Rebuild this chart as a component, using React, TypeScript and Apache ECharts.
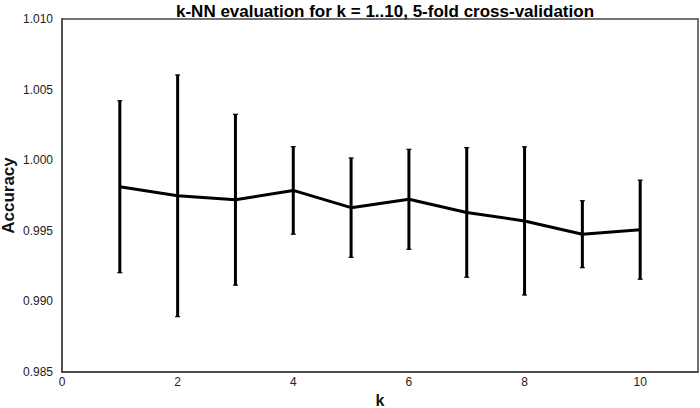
import React, { useEffect, useRef } from "react";
import * as echarts from "echarts";

const kValues = [1, 2, 3, 4, 5, 6, 7, 8, 9, 10];
const meanAccuracy = [0.99812, 0.99748, 0.9972, 0.99786, 0.99664, 0.99723, 0.9963, 0.9957, 0.99476, 0.99508];
const stdAccuracy = [0.00609, 0.00856, 0.00605, 0.0031, 0.00352, 0.00354, 0.00459, 0.00525, 0.00237, 0.00351];
const titleText = "k-NN evaluation for k = 1..10, 5-fold cross-validation";

export default function App() {
  const ref = useRef<HTMLDivElement>(null);
  useEffect(() => {
    if (!ref.current) return;
    const chart = echarts.init(ref.current, null, { renderer: "svg" });
    const font = "'Liberation Sans', Arial, Helvetica, sans-serif";
    const lineData = kValues.map((k, i) => [k, meanAccuracy[i]]);
    const errData = kValues.map((k, i) => [k, meanAccuracy[i] - stdAccuracy[i], meanAccuracy[i] + stdAccuracy[i]]);
    chart.setOption({
      animation: false,
      backgroundColor: "#ffffff",
      title: {
        text: titleText,
        left: 380,
        textAlign: "center",
        top: -2,
        textStyle: { fontFamily: font, fontSize: 17, fontWeight: "bold", color: "#000" },
      },
      grid: {
        left: 62,
        right: 2,
        top: 19,
        bottom: 36,
        containLabel: false,
        outerBoundsMode: "none",
        show: true,
        borderColor: "#444",
        borderWidth: 1.5,
        backgroundColor: "transparent",
      },
      xAxis: {
        type: "value",
        min: 0,
        max: 11,
        interval: 2,
        name: "k",
        nameLocation: "middle",
        nameGap: 20,
        nameMoveOverlap: false,
        nameTextStyle: { fontFamily: font, fontSize: 16, fontWeight: "bold", color: "#111" },
        axisLine: { show: true, lineStyle: { color: "#444", width: 1.5 } },
        axisTick: { show: false },
        splitLine: { show: false },
        axisLabel: {
          showMaxLabel: false,
          margin: 4,
          fontFamily: font,
          fontSize: 12,
          color: "#222",
        },
      },
      yAxis: {
        type: "value",
        min: 0.985,
        max: 1.01,
        interval: 0.005,
        name: "Accuracy",
        nameLocation: "middle",
        nameGap: 45,
        nameMoveOverlap: false,
        nameTextStyle: { fontFamily: font, fontSize: 17, fontWeight: "bold", color: "#111" },
        axisLine: { show: true, lineStyle: { color: "#444", width: 1.5 } },
        axisTick: { show: false },
        splitLine: { show: false },
        axisLabel: {
          margin: 9,
          fontFamily: font,
          fontSize: 12,
          color: "#222",
          formatter: (v: number) => v.toFixed(3),
        },
      },
      series: [
        {
          type: "custom",
          data: errData,
          renderItem: (params: any, api: any) => {
            const x = api.value(0);
            const lo = api.coord([x, api.value(1)]);
            const hi = api.coord([x, api.value(2)]);
            const cap = 2.5;
            return {
              type: "group",
              children: [
                { type: "line", shape: { x1: lo[0], y1: lo[1], x2: hi[0], y2: hi[1] }, style: { stroke: "#000", lineWidth: 3 } },
                { type: "line", shape: { x1: lo[0] - cap, y1: lo[1], x2: lo[0] + cap, y2: lo[1] }, style: { stroke: "#000", lineWidth: 1.2 } },
                { type: "line", shape: { x1: hi[0] - cap, y1: hi[1], x2: hi[0] + cap, y2: hi[1] }, style: { stroke: "#000", lineWidth: 1.2 } },
              ],
            };
          },
          z: 2,
        },
        {
          type: "line",
          data: lineData,
          showSymbol: false,
          symbol: "none",
          lineStyle: { color: "#000", width: 3 },
          z: 3,
        },
      ],
    });
    return () => chart.dispose();
  }, []);
  return <div ref={ref} style={{ position: "fixed", left: 0, top: 0, width: 700, height: 408 }} />;
}
